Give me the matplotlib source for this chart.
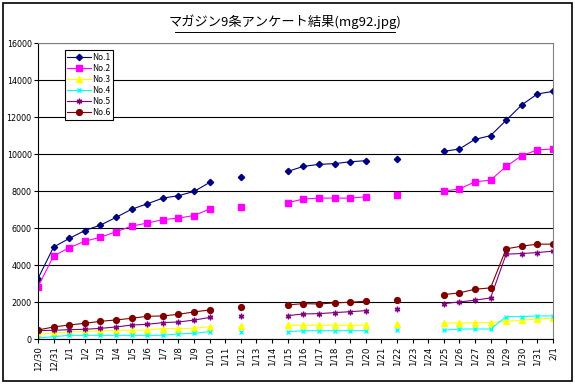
import numpy as np
import matplotlib
matplotlib.use("Agg")
import matplotlib.pyplot as plt
from matplotlib.patches import Rectangle

plt.rcParams['font.family'] = ['Noto Sans CJK JP', 'DejaVu Sans']

nan = np.nan
dates = ['12/30', '12/31'] + ['1/%d' % d for d in range(1, 32)] + ['2/1']

no1 = [3290, 4990, 5450, 5880, 6170, 6590, 7030, 7320, 7630, 7760, 7990, 8475,
       nan, 8746, nan, nan, 9070, 9340, 9450, 9490, 9590, 9650, nan, 9720, nan, nan,
       10150, 10280, 10800, 11000, 11830, 12660, 13250, 13390]
no2 = [2850, 4510, 4950, 5300, 5520, 5810, 6120, 6280, 6470, 6550, 6690, 7040,
       nan, 7145, nan, nan, 7380, 7580, 7630, 7630, 7630, 7700, nan, 7800, nan, nan,
       8010, 8120, 8510, 8600, 9340, 9920, 10230, 10280]
no3 = [280, 350, 405, 425, 460, 495, 495, 515, 585, 585, 605, 690,
       nan, 730, nan, nan, 760, 765, 765, 765, 765, 770, nan, 850, nan, nan,
       890, 890, 910, 910, 985, 1040, 1110, 1145]
no4 = [80, 150, 225, 225, 225, 225, 225, 225, 225, 300, 330, 425,
       nan, 385, nan, nan, 420, 475, 475, 475, 475, 475, nan, 500, nan, nan,
       500, 565, 565, 565, 1234, 1234, 1270, 1270]
no5 = [477, 495, 530, 550, 600, 675, 780, 820, 910, 945, 1045, 1190,
       nan, 1270, nan, nan, 1286, 1378, 1394, 1450, 1500, 1556, nan, 1665, nan, nan,
       1935, 2027, 2119, 2243, 4605, 4638, 4692, 4767]
no6 = [513, 675, 783, 873, 981, 1054, 1144, 1252, 1270, 1360, 1486, 1594,
       nan, 1740, nan, nan, 1865, 1935, 1915, 1973, 2010, 2064, nan, 2110, nan, nan,
       2422, 2513, 2713, 2784, 4892, 5037, 5145, 5145]

series = [
    ('No.1', no1, '#000080', 'D', 3.2),
    ('No.2', no2, '#FF00FF', 's', 4),
    ('No.3', no3, '#FFFF00', '^', 4.5),
    ('No.4', no4, '#00FFFF', 'x', 3.5),
    ('No.5', no5, '#800080', (6, 2, 0), 4),
    ('No.6', no6, '#800000', 'o', 4.2),
]

fig = plt.figure(figsize=(5.75, 3.86), dpi=100)
fig.patches.append(Rectangle((0.006, 0.013), 0.988, 0.978, transform=fig.transFigure,
                             fill=False, edgecolor='black', linewidth=1.2))
ax = fig.add_axes([0.0661, 0.1205, 0.8956, 0.7681])

x = np.arange(len(dates))
for name, vals, col, mk, ms in series:
    ax.plot(x, vals, color=col, marker=mk, markersize=ms, linewidth=0.8,
            markeredgecolor=col, markerfacecolor=col, markeredgewidth=1, label=name)

ax.set_xlim(0, len(dates) - 1)
ax.set_ylim(0, 16000)
ax.set_yticks(range(0, 16001, 2000))
ax.set_xticks(x)
ax.set_xticklabels(dates, rotation=90, fontsize=6.2, family='DejaVu Sans')
ax.tick_params(axis='y', labelsize=5.8, length=3, width=0.8, pad=1.5)
ax.tick_params(axis='x', length=3, width=0.8, pad=2)
for lbl in ax.get_yticklabels():
    lbl.set_family('DejaVu Sans')
ax.grid(axis='y', color='black', linewidth=0.8)
ax.set_axisbelow(True)
for s in ['top', 'right']:
    ax.spines[s].set_color('#808080')
for s in ['left', 'bottom']:
    ax.spines[s].set_color('black')

leg = ax.legend(loc='upper left', bbox_to_anchor=(0.052, 0.975), fontsize=6,
                frameon=True, fancybox=False, edgecolor='black', framealpha=1,
                borderpad=0.3, labelspacing=0.25, handlelength=2.8, handletextpad=0.2,
                borderaxespad=0)
leg.get_frame().set_linewidth(0.8)

fig.text(0.495, 0.945, 'マガジン9条アンケート結果(mg92.jpg)', ha='center', va='center',
         fontsize=9.5)
fig.lines.append(plt.Line2D([0.305, 0.687], [0.918, 0.918], transform=fig.transFigure,
                            color='black', linewidth=0.7))

fig.savefig('out.png', dpi=100)
